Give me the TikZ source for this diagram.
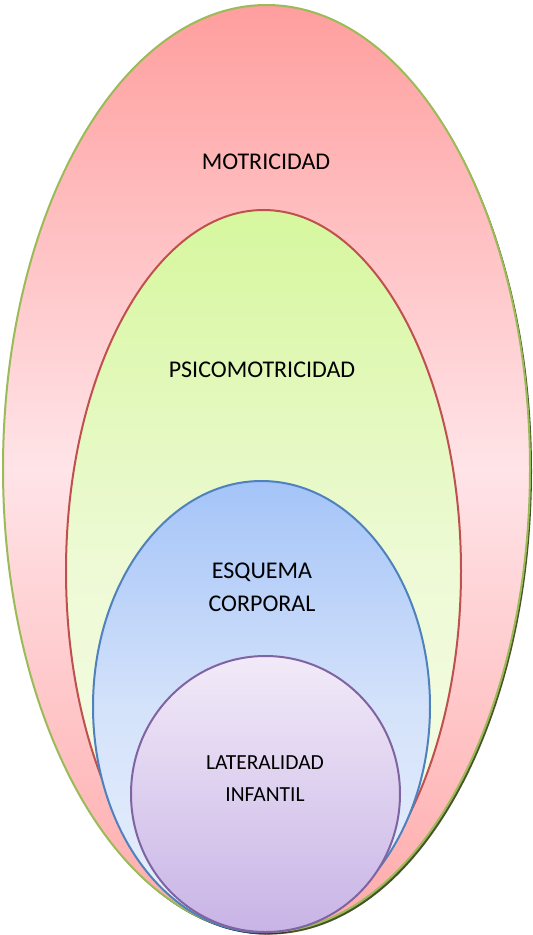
\documentclass[tikz,border=0pt]{standalone}
\usepackage{fontspec}
\setmainfont{Carlito}
\definecolor{olivebd}{HTML}{9BBB59}
\definecolor{redbd}{HTML}{C0504D}
\definecolor{bluebd}{HTML}{4F81BD}
\definecolor{purplebd}{HTML}{8064A2}
\tikzset{
  lbl/.style={font=\fontsize{24}{33}\selectfont, align=center, text=black},
  lblsmall/.style={font=\fontsize{21.5}{32}\selectfont, align=center, text=black},
  ring/.style={line width=2pt},
}
\begin{document}
\begin{tikzpicture}[x=1pt,y=-1pt]
\useasboundingbox (0,0) rectangle (533,935);
% shadows
\fill[black!55!olivebd] (268.5,471) ellipse [x radius=263.5, y radius=463.5];
\fill[black!60!redbd] (265.5,573.5) ellipse [x radius=197.5, y radius=361];
\fill[black!50!bluebd] (263,708.5) ellipse [x radius=168.5, y radius=225.5];
% outer
\path[ring, draw=olivebd, top color={rgb,255:red,255;green,158;blue,158}, bottom color={rgb,255:red,255;green,170;blue,170}, middle color={rgb,255:red,255;green,228;blue,232}] (266.5,468.5) ellipse [x radius=263.5, y radius=463.5];
\node[lbl] (mot) at (266,162) {MOTRICIDAD};
% second
\path[ring, draw=redbd, top color={rgb,255:red,214;green,247;blue,158}, bottom color={rgb,255:red,246;green,252;blue,234}, middle color={rgb,255:red,238;green,250;blue,214}] (263.5,571) ellipse [x radius=197.5, y radius=361];
\node[lbl] (psi) at (262,370) {PSICOMOTRICIDAD};
% third
\path[ring, draw=bluebd, top color={rgb,255:red,164;green,196;blue,248}, bottom color={rgb,255:red,232;green,240;blue,252}, middle color={rgb,255:red,212;green,226;blue,250}] (261.5,706.5) ellipse [x radius=168.5, y radius=225.5];
\node[lbl] (esq) at (262,587) {ESQUEMA\\CORPORAL};
% fourth
\path[ring, draw=purplebd, top color={rgb,255:red,242;green,234;blue,248}, bottom color={rgb,255:red,200;green,180;blue,230}] (265.5,794) ellipse [x radius=134.5, y radius=138];
\node[lblsmall] (lat) at (265,779) {LATERALIDAD\\INFANTIL};
\end{tikzpicture}
\end{document}
